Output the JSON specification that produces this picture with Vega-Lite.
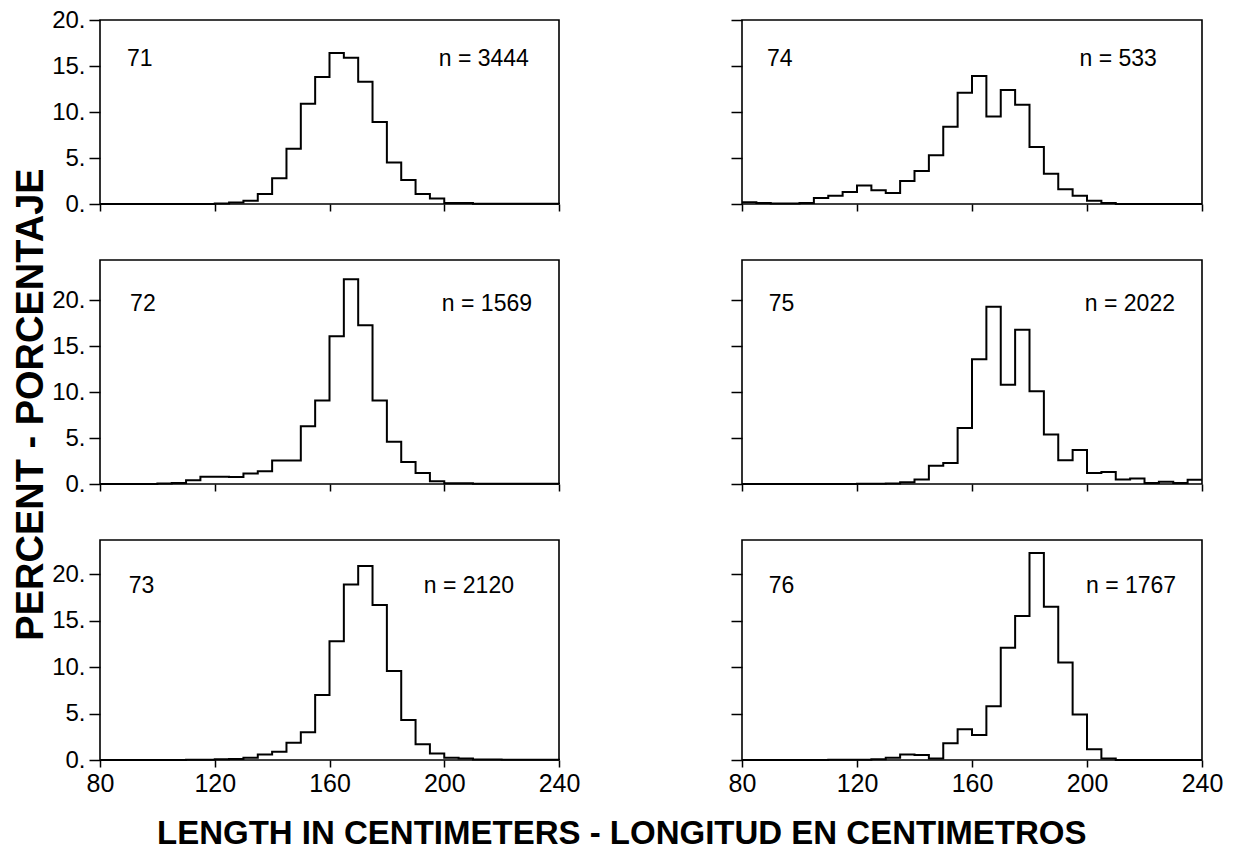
{
  "$schema": "https://vega.github.io/schema/vega-lite/v6.json",
  "background": "white",
  "padding": {"left": 11, "top": 7, "right": 20, "bottom": 10},
  "title": {"text": "LENGTH IN CENTIMETERS - LONGITUD EN CENTIMETROS", "orient": "bottom", "anchor": "middle", "font": "Liberation Sans", "fontSize": 33, "fontWeight": "bold", "color": "black", "offset": 21, "dx": 4},
  "datasets": {
    "hist": [
      {"p": "71", "len": 80, "pct": 0}, {"p": "71", "len": 120, "pct": 0.05}, {"p": "71", "len": 125, "pct": 0.15}, {"p": "71", "len": 130, "pct": 0.36}, {"p": "71", "len": 135, "pct": 1.1}, {"p": "71", "len": 140, "pct": 2.8}, {"p": "71", "len": 145, "pct": 6.0}, {"p": "71", "len": 150, "pct": 10.9}, {"p": "71", "len": 155, "pct": 13.8}, {"p": "71", "len": 160, "pct": 16.4}, {"p": "71", "len": 165, "pct": 15.9}, {"p": "71", "len": 170, "pct": 13.3}, {"p": "71", "len": 175, "pct": 8.9}, {"p": "71", "len": 180, "pct": 4.5}, {"p": "71", "len": 185, "pct": 2.6}, {"p": "71", "len": 190, "pct": 1.1}, {"p": "71", "len": 195, "pct": 0.6}, {"p": "71", "len": 200, "pct": 0.1}, {"p": "71", "len": 210, "pct": 0.03}, {"p": "71", "len": 240, "pct": 0},

      {"p": "72", "len": 80, "pct": 0}, {"p": "72", "len": 100, "pct": 0.05}, {"p": "72", "len": 105, "pct": 0.1}, {"p": "72", "len": 110, "pct": 0.4}, {"p": "72", "len": 115, "pct": 0.8}, {"p": "72", "len": 120, "pct": 0.8}, {"p": "72", "len": 125, "pct": 0.75}, {"p": "72", "len": 130, "pct": 1.15}, {"p": "72", "len": 135, "pct": 1.4}, {"p": "72", "len": 140, "pct": 2.55}, {"p": "72", "len": 145, "pct": 2.55}, {"p": "72", "len": 150, "pct": 6.3}, {"p": "72", "len": 155, "pct": 9.1}, {"p": "72", "len": 160, "pct": 16.1}, {"p": "72", "len": 165, "pct": 22.3}, {"p": "72", "len": 170, "pct": 17.3}, {"p": "72", "len": 175, "pct": 9.1}, {"p": "72", "len": 180, "pct": 4.6}, {"p": "72", "len": 185, "pct": 2.4}, {"p": "72", "len": 190, "pct": 1.2}, {"p": "72", "len": 195, "pct": 0.3}, {"p": "72", "len": 200, "pct": 0.07}, {"p": "72", "len": 210, "pct": 0.03}, {"p": "72", "len": 240, "pct": 0},

      {"p": "73", "len": 80, "pct": 0}, {"p": "73", "len": 110, "pct": 0.03}, {"p": "73", "len": 120, "pct": 0.07}, {"p": "73", "len": 125, "pct": 0.1}, {"p": "73", "len": 130, "pct": 0.25}, {"p": "73", "len": 135, "pct": 0.6}, {"p": "73", "len": 140, "pct": 0.9}, {"p": "73", "len": 145, "pct": 1.85}, {"p": "73", "len": 150, "pct": 3.0}, {"p": "73", "len": 155, "pct": 7.0}, {"p": "73", "len": 160, "pct": 12.8}, {"p": "73", "len": 165, "pct": 18.9}, {"p": "73", "len": 170, "pct": 20.9}, {"p": "73", "len": 175, "pct": 16.7}, {"p": "73", "len": 180, "pct": 9.6}, {"p": "73", "len": 185, "pct": 4.3}, {"p": "73", "len": 190, "pct": 1.7}, {"p": "73", "len": 195, "pct": 0.7}, {"p": "73", "len": 200, "pct": 0.25}, {"p": "73", "len": 205, "pct": 0.15}, {"p": "73", "len": 210, "pct": 0.05}, {"p": "73", "len": 220, "pct": 0.02}, {"p": "73", "len": 240, "pct": 0},

      {"p": "74", "len": 80, "pct": 0.2}, {"p": "74", "len": 85, "pct": 0.1}, {"p": "74", "len": 90, "pct": 0.05}, {"p": "74", "len": 95, "pct": 0.05}, {"p": "74", "len": 100, "pct": 0.1}, {"p": "74", "len": 105, "pct": 0.65}, {"p": "74", "len": 110, "pct": 0.9}, {"p": "74", "len": 115, "pct": 1.3}, {"p": "74", "len": 120, "pct": 2.0}, {"p": "74", "len": 125, "pct": 1.5}, {"p": "74", "len": 130, "pct": 1.2}, {"p": "74", "len": 135, "pct": 2.5}, {"p": "74", "len": 140, "pct": 3.6}, {"p": "74", "len": 145, "pct": 5.3}, {"p": "74", "len": 150, "pct": 8.4}, {"p": "74", "len": 155, "pct": 12.1}, {"p": "74", "len": 160, "pct": 13.9}, {"p": "74", "len": 165, "pct": 9.5}, {"p": "74", "len": 170, "pct": 12.4}, {"p": "74", "len": 175, "pct": 10.8}, {"p": "74", "len": 180, "pct": 6.2}, {"p": "74", "len": 185, "pct": 3.3}, {"p": "74", "len": 190, "pct": 1.6}, {"p": "74", "len": 195, "pct": 0.9}, {"p": "74", "len": 200, "pct": 0.36}, {"p": "74", "len": 205, "pct": 0.1}, {"p": "74", "len": 210, "pct": 0}, {"p": "74", "len": 240, "pct": 0},

      {"p": "75", "len": 80, "pct": 0}, {"p": "75", "len": 120, "pct": 0.03}, {"p": "75", "len": 130, "pct": 0.05}, {"p": "75", "len": 135, "pct": 0.2}, {"p": "75", "len": 140, "pct": 0.5}, {"p": "75", "len": 145, "pct": 2.0}, {"p": "75", "len": 150, "pct": 2.3}, {"p": "75", "len": 155, "pct": 6.1}, {"p": "75", "len": 160, "pct": 13.6}, {"p": "75", "len": 165, "pct": 19.3}, {"p": "75", "len": 170, "pct": 10.8}, {"p": "75", "len": 175, "pct": 16.8}, {"p": "75", "len": 180, "pct": 10.1}, {"p": "75", "len": 185, "pct": 5.4}, {"p": "75", "len": 190, "pct": 2.6}, {"p": "75", "len": 195, "pct": 3.7}, {"p": "75", "len": 200, "pct": 1.2}, {"p": "75", "len": 205, "pct": 1.3}, {"p": "75", "len": 210, "pct": 0.5}, {"p": "75", "len": 215, "pct": 0.6}, {"p": "75", "len": 220, "pct": 0.1}, {"p": "75", "len": 225, "pct": 0.25}, {"p": "75", "len": 230, "pct": 0.1}, {"p": "75", "len": 235, "pct": 0.45}, {"p": "75", "len": 240, "pct": 0.45},

      {"p": "76", "len": 80, "pct": 0}, {"p": "76", "len": 110, "pct": 0.02}, {"p": "76", "len": 125, "pct": 0.07}, {"p": "76", "len": 130, "pct": 0.25}, {"p": "76", "len": 135, "pct": 0.6}, {"p": "76", "len": 140, "pct": 0.55}, {"p": "76", "len": 145, "pct": 0.15}, {"p": "76", "len": 150, "pct": 1.8}, {"p": "76", "len": 155, "pct": 3.3}, {"p": "76", "len": 160, "pct": 2.7}, {"p": "76", "len": 165, "pct": 5.8}, {"p": "76", "len": 170, "pct": 12.1}, {"p": "76", "len": 175, "pct": 15.5}, {"p": "76", "len": 180, "pct": 22.3}, {"p": "76", "len": 185, "pct": 16.5}, {"p": "76", "len": 190, "pct": 10.5}, {"p": "76", "len": 195, "pct": 4.9}, {"p": "76", "len": 200, "pct": 1.15}, {"p": "76", "len": 205, "pct": 0.15}, {"p": "76", "len": 210, "pct": 0}, {"p": "76", "len": 240, "pct": 0}
    ],
    "info": [
      {"p": "71", "year": "71", "n": "n = 3444"},
      {"p": "72", "year": "72", "n": "n = 1569"},
      {"p": "73", "year": "73", "n": "n = 2120"},
      {"p": "74", "year": "74", "n": "n = 533"},
      {"p": "75", "year": "75", "n": "n = 2022"},
      {"p": "76", "year": "76", "n": "n = 1767"}
    ]
  },
  "config": {
    "view": {"stroke": "black", "strokeWidth": 1.6},
    "axis": {"grid": false, "domain": false, "tickColor": "black", "tickWidth": 1.5, "labelColor": "black", "labelFont": "Liberation Sans", "labelOverlap": false, "labelFlush": false, "titleColor": "black"},
    "axisX": {"tickSize": 7, "labelFontSize": 25, "labelPadding": 4},
    "axisY": {"tickSize": 11, "labelFontSize": 24, "labelPadding": 4},
    "text": {"font": "Liberation Sans", "fontSize": 23, "color": "black"}
  },
  "columns": 2,
  "align": "each",
  "bounds": "flush",
  "spacing": {"row": 56, "column": 183},
  "concat": [
    {
      "width": 459, "height": 184,
      "layer": [
        {"data": {"name": "hist"}, "transform": [{"filter": "datum.p === '71'"}],
         "mark": {"type": "line", "interpolate": "step-after", "color": "black", "strokeWidth": 2},
         "encoding": {
           "x": {"field": "len", "type": "quantitative", "scale": {"domain": [80, 240], "nice": false}, "axis": {"values": [80, 120, 160, 200, 240], "labels": false, "title": null}},
           "y": {"field": "pct", "type": "quantitative", "scale": {"domain": [0, 20], "nice": false}, "axis": {"values": [0, 5, 10, 15, 20], "labelExpr": "datum.value + '.'", "title": null}}
         }},
        {"data": {"name": "info"}, "transform": [{"filter": "datum.p === '71'"}],
         "mark": {"type": "text", "align": "left", "baseline": "alphabetic"},
         "encoding": {"x": {"datum": 89.4}, "y": {"datum": 15}, "text": {"field": "year"}}},
        {"data": {"name": "info"}, "transform": [{"filter": "datum.p === '71'"}],
         "mark": {"type": "text", "align": "right", "baseline": "alphabetic"},
         "encoding": {"x": {"datum": 229.5}, "y": {"datum": 15}, "text": {"field": "n"}}}
      ]
    },
    {
      "width": 460, "height": 184,
      "layer": [
        {"data": {"name": "hist"}, "transform": [{"filter": "datum.p === '74'"}],
         "mark": {"type": "line", "interpolate": "step-after", "color": "black", "strokeWidth": 2},
         "encoding": {
           "x": {"field": "len", "type": "quantitative", "scale": {"domain": [80, 240], "nice": false}, "axis": {"values": [80, 120, 160, 200, 240], "labels": false, "title": null}},
           "y": {"field": "pct", "type": "quantitative", "scale": {"domain": [0, 20], "nice": false}, "axis": {"values": [0, 5, 10, 15, 20], "labels": false, "title": null}}
         }},
        {"data": {"name": "info"}, "transform": [{"filter": "datum.p === '74'"}],
         "mark": {"type": "text", "align": "left", "baseline": "alphabetic"},
         "encoding": {"x": {"datum": 88.7}, "y": {"datum": 15}, "text": {"field": "year"}}},
        {"data": {"name": "info"}, "transform": [{"filter": "datum.p === '74'"}],
         "mark": {"type": "text", "align": "right", "baseline": "alphabetic"},
         "encoding": {"x": {"datum": 224.3}, "y": {"datum": 15}, "text": {"field": "n"}}}
      ]
    },
    {
      "width": 459, "height": 224,
      "layer": [
        {"data": {"name": "hist"}, "transform": [{"filter": "datum.p === '72'"}],
         "mark": {"type": "line", "interpolate": "step-after", "color": "black", "strokeWidth": 2},
         "encoding": {
           "x": {"field": "len", "type": "quantitative", "scale": {"domain": [80, 240], "nice": false}, "axis": {"values": [80, 120, 160, 200, 240], "labels": false, "title": null}},
           "y": {"field": "pct", "type": "quantitative", "scale": {"domain": [0, 24.4], "nice": false}, "axis": {"values": [0, 5, 10, 15, 20], "labelExpr": "datum.value + '.'", "title": "PERCENT - PORCENTAJE", "titleFont": "Liberation Sans", "titleFontSize": 38, "titleFontWeight": "bold", "titlePadding": 1, "titleY": 144}}
         }},
        {"data": {"name": "info"}, "transform": [{"filter": "datum.p === '72'"}],
         "mark": {"type": "text", "align": "left", "baseline": "alphabetic"},
         "encoding": {"x": {"datum": 90.5}, "y": {"datum": 18.8}, "text": {"field": "year"}}},
        {"data": {"name": "info"}, "transform": [{"filter": "datum.p === '72'"}],
         "mark": {"type": "text", "align": "right", "baseline": "alphabetic"},
         "encoding": {"x": {"datum": 230.6}, "y": {"datum": 18.8}, "text": {"field": "n"}}}
      ]
    },
    {
      "width": 460, "height": 224,
      "layer": [
        {"data": {"name": "hist"}, "transform": [{"filter": "datum.p === '75'"}],
         "mark": {"type": "line", "interpolate": "step-after", "color": "black", "strokeWidth": 2},
         "encoding": {
           "x": {"field": "len", "type": "quantitative", "scale": {"domain": [80, 240], "nice": false}, "axis": {"values": [80, 120, 160, 200, 240], "labels": false, "title": null}},
           "y": {"field": "pct", "type": "quantitative", "scale": {"domain": [0, 24.4], "nice": false}, "axis": {"values": [0, 5, 10, 15, 20], "labels": false, "title": null}}
         }},
        {"data": {"name": "info"}, "transform": [{"filter": "datum.p === '75'"}],
         "mark": {"type": "text", "align": "left", "baseline": "alphabetic"},
         "encoding": {"x": {"datum": 89.3}, "y": {"datum": 18.8}, "text": {"field": "year"}}},
        {"data": {"name": "info"}, "transform": [{"filter": "datum.p === '75'"}],
         "mark": {"type": "text", "align": "right", "baseline": "alphabetic"},
         "encoding": {"x": {"datum": 230.6}, "y": {"datum": 18.8}, "text": {"field": "n"}}}
      ]
    },
    {
      "width": 459, "height": 220,
      "layer": [
        {"data": {"name": "hist"}, "transform": [{"filter": "datum.p === '73'"}],
         "mark": {"type": "line", "interpolate": "step-after", "color": "black", "strokeWidth": 2},
         "encoding": {
           "x": {"field": "len", "type": "quantitative", "scale": {"domain": [80, 240], "nice": false}, "axis": {"values": [80, 120, 160, 200, 240], "title": null}},
           "y": {"field": "pct", "type": "quantitative", "scale": {"domain": [0, 23.7], "nice": false}, "axis": {"values": [0, 5, 10, 15, 20], "labelExpr": "datum.value + '.'", "title": null}}
         }},
        {"data": {"name": "info"}, "transform": [{"filter": "datum.p === '73'"}],
         "mark": {"type": "text", "align": "left", "baseline": "alphabetic"},
         "encoding": {"x": {"datum": 90}, "y": {"datum": 18}, "text": {"field": "year"}}},
        {"data": {"name": "info"}, "transform": [{"filter": "datum.p === '73'"}],
         "mark": {"type": "text", "align": "right", "baseline": "alphabetic"},
         "encoding": {"x": {"datum": 224.3}, "y": {"datum": 18}, "text": {"field": "n"}}}
      ]
    },
    {
      "width": 460, "height": 220,
      "layer": [
        {"data": {"name": "hist"}, "transform": [{"filter": "datum.p === '76'"}],
         "mark": {"type": "line", "interpolate": "step-after", "color": "black", "strokeWidth": 2},
         "encoding": {
           "x": {"field": "len", "type": "quantitative", "scale": {"domain": [80, 240], "nice": false}, "axis": {"values": [80, 120, 160, 200, 240], "title": null}},
           "y": {"field": "pct", "type": "quantitative", "scale": {"domain": [0, 23.7], "nice": false}, "axis": {"values": [0, 5, 10, 15, 20], "labels": false, "title": null}}
         }},
        {"data": {"name": "info"}, "transform": [{"filter": "datum.p === '76'"}],
         "mark": {"type": "text", "align": "left", "baseline": "alphabetic"},
         "encoding": {"x": {"datum": 89.3}, "y": {"datum": 18}, "text": {"field": "year"}}},
        {"data": {"name": "info"}, "transform": [{"filter": "datum.p === '76'"}],
         "mark": {"type": "text", "align": "right", "baseline": "alphabetic"},
         "encoding": {"x": {"datum": 231}, "y": {"datum": 18}, "text": {"field": "n"}}}
      ]
    }
  ]
}
